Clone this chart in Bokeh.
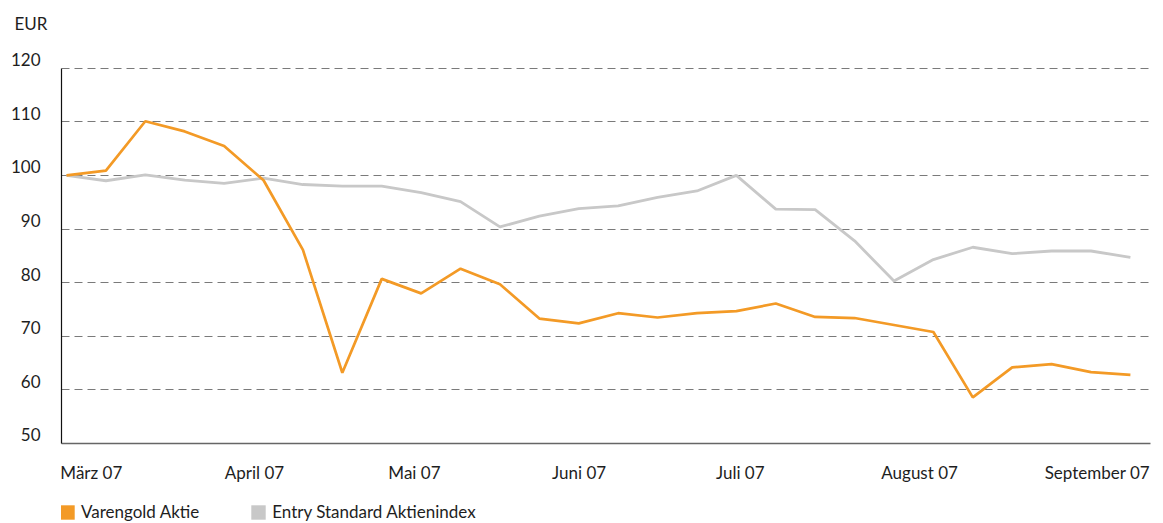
import numpy as np
from bokeh.plotting import figure
from bokeh.layouts import column
from bokeh.models import (Range1d, FixedTicker, Legend, LegendItem, Title, LinearAxis)
from bokeh.embed import file_html
from bokeh.resources import INLINE

# ---- data ----
varengold = [100.0, 100.9, 110.1, 108.2, 105.5, 99.1, 86.1, 63.2, 80.7, 78.0,
             82.6, 79.7, 73.3, 72.4, 74.3, 73.5, 74.3, 74.7, 76.1, 73.6,
             73.4, 72.1, 70.8, 58.6, 64.2, 64.8, 63.3, 62.8]
entry_standard = [100.0, 99.0, 100.1, 99.1, 98.5, 99.5, 98.3, 98.0, 98.0, 96.8,
                  95.1, 90.4, 92.4, 93.8, 94.3, 95.9, 97.1, 100.0, 93.7, 93.6,
                  87.8, 80.3, 84.3, 86.6, 85.4, 85.9, 85.9, 84.7]
month_labels = ["März 07", "April 07", "Mai 07", "Juni 07", "Juli 07",
                "August 07", "September 07"]
month_ticks = [0.63, 4.77, 8.83, 13.01, 17.10, 21.65, 26.16]
y_ticks = [50, 60, 70, 80, 90, 100, 110, 120]
series_names = ["Varengold Aktie", "Entry Standard Aktienindex"]
unit_label = "EUR"

FONT = "Lato"
FS = "17px"
TXT = "#1e1e1e"
ORANGE = "#F39A26"
GREY = "#C8C8C8"
LABEL_SHIFT = 1.6    # raise y tick labels so they sit on their grid lines

idx = list(range(len(varengold)))
Y0, Y1 = 50, 121.8
W = 1163

# ---- top strip: unit label ----
top = figure(width=W, height=40, output_backend="svg", toolbar_location=None,
             x_axis_location=None, y_axis_location=None,
             x_range=Range1d(0, 1), y_range=Range1d(0, 1),
             min_border_left=0, min_border_right=0,
             min_border_top=36, min_border_bottom=0)
top.outline_line_color = None
top.xgrid.visible = False
top.ygrid.visible = False
top.title = Title(text=unit_label, align="left", offset=-47, standoff=6,
                  text_font=FONT, text_font_size=FS, text_font_style="normal",
                  text_color=TXT)

# ---- main chart ----
p = figure(width=W, height=457, output_backend="svg", toolbar_location=None,
           x_range=Range1d(-0.127, 27.51), y_range=Range1d(Y0, Y1),
           min_border_left=61, min_border_right=13, min_border_top=18,
           min_border_bottom=54)
p.outline_line_color = None
p.background_fill_color = "white"
p.border_fill_color = "white"

# grid
p.xgrid.grid_line_color = None
p.ygrid.ticker = FixedTicker(ticks=y_ticks[1:])
p.ygrid.grid_line_color = "#7a7a7a"
p.ygrid.grid_line_dash = "8 5"
p.ygrid.grid_line_width = 1

# y axis line (50..120 only), no labels
p.yaxis.ticker = FixedTicker(ticks=[])
p.yaxis.bounds = (y_ticks[0], y_ticks[-1])
p.yaxis.axis_line_color = "#111111"
p.yaxis.axis_line_width = 1.2
p.yaxis.major_tick_line_color = None
p.yaxis.minor_tick_line_color = None
p.yaxis.major_tick_out = 0
p.yaxis.major_tick_in = 0
p.yaxis.major_label_standoff = 0

# y tick labels on a slightly shifted range so they sit above the lines
p.extra_y_ranges = {"lab": Range1d(Y0 - LABEL_SHIFT, Y1 - LABEL_SHIFT)}
ylab = LinearAxis(y_range_name="lab", ticker=FixedTicker(ticks=y_ticks),
                  axis_line_color=None, major_tick_line_color=None,
                  minor_tick_line_color=None, major_tick_out=0, major_tick_in=0,
                  major_label_standoff=21, major_label_text_font=FONT,
                  major_label_text_font_size=FS, major_label_text_color=TXT)
p.add_layout(ylab, "left")

# x axis
p.xaxis.ticker = FixedTicker(ticks=month_ticks)
p.xaxis.major_label_overrides = {t: l for t, l in zip(month_ticks, month_labels)}
p.xaxis.axis_line_color = "#666666"
p.xaxis.axis_line_width = 1.5
p.xaxis.major_tick_line_color = None
p.xaxis.minor_tick_line_color = None
p.xaxis.major_tick_out = 0
p.xaxis.major_tick_in = 0
p.xaxis.major_label_standoff = 18
p.xaxis.major_label_text_font = FONT
p.xaxis.major_label_text_font_size = FS
p.xaxis.major_label_text_color = TXT

# lines
p.line(idx, entry_standard, line_color=GREY, line_width=2.8)
p.line(idx, varengold, line_color=ORANGE, line_width=2.7)

# ---- legend strip below the chart, with square swatches ----
lg = figure(width=W, height=26, output_backend="svg", toolbar_location=None,
            x_axis_location=None, y_axis_location=None,
            x_range=Range1d(0, 1), y_range=Range1d(0, 1),
            min_border_left=0, min_border_right=0,
            min_border_top=0, min_border_bottom=0)
lg.outline_line_color = None
lg.xgrid.visible = False
lg.ygrid.visible = False
nan = np.array([np.nan])
r1 = lg.quad(left=nan, right=nan, top=nan, bottom=nan, fill_color=ORANGE, line_color=None)
r2 = lg.quad(left=nan, right=nan, top=nan, bottom=nan, fill_color=GREY, line_color=None)
legend = Legend(items=[LegendItem(label=series_names[0], renderers=[r1], index=0),
                       LegendItem(label=series_names[1], renderers=[r2], index=0)],
                orientation="horizontal", location=(-3, 1),
                glyph_width=18, glyph_height=18, label_height=18,
                label_standoff=5, spacing=50, padding=0, margin=0,
                border_line_color=None, background_fill_alpha=0,
                label_text_font=FONT, label_text_font_size=FS,
                label_text_color=TXT)
lg.add_layout(legend, "center")

layout = column(top, p, lg, spacing=0)
open("out.html", "w").write(file_html(layout, INLINE))
